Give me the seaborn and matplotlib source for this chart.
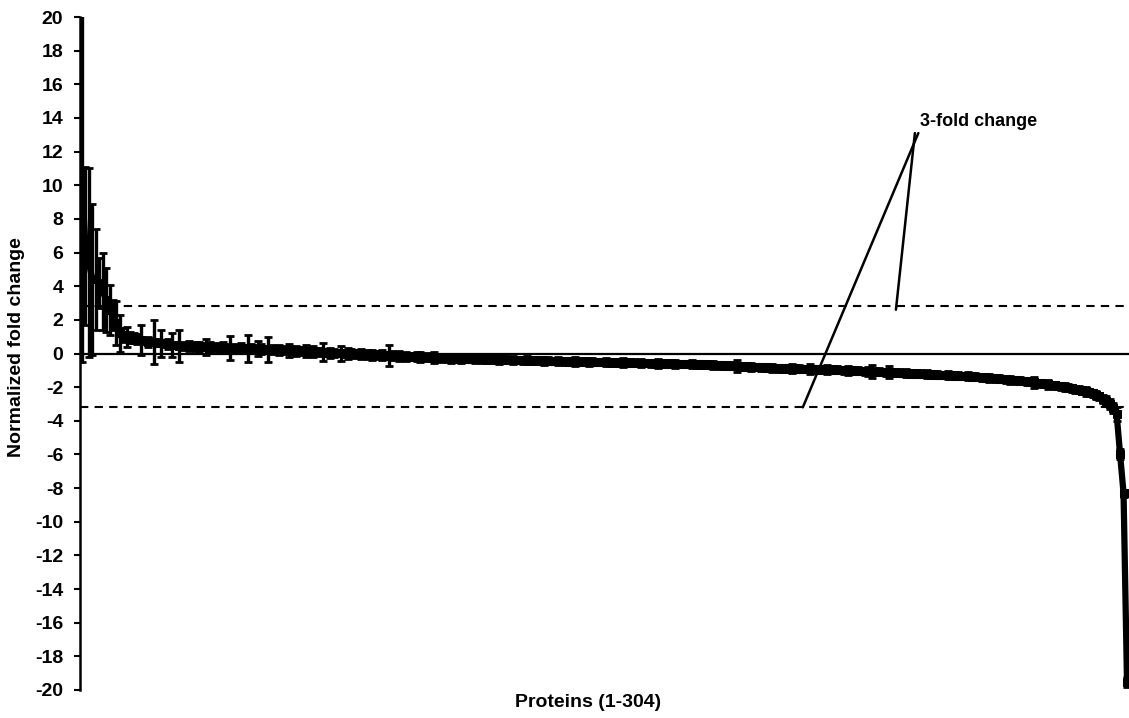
import seaborn as sns
import pandas as pd
import matplotlib.pyplot as plt

# normalized fold change per protein, sorted
fold_change = [
    10.0, 6.4, 5.4, 4.4, 4.4, 4.2, 3.7, 3.2, 2.6, 2.3, 1.8, 1.2, 1.1, 1.0, 0.95, 0.9,
    0.85, 0.8, 0.75, 0.7, 0.7, 0.7, 0.65, 0.6, 0.6, 0.55, 0.5, 0.5, 0.45, 0.45, 0.44, 0.43,
    0.42, 0.41, 0.40, 0.40, 0.39, 0.38, 0.38, 0.37, 0.36, 0.36, 0.35, 0.34, 0.34, 0.33, 0.32, 0.32,
    0.31, 0.30, 0.29, 0.28, 0.27, 0.26, 0.25, 0.24, 0.23, 0.22, 0.21, 0.20, 0.19, 0.18, 0.17, 0.16,
    0.15, 0.14, 0.13, 0.12, 0.11, 0.10, 0.08, 0.06, 0.05, 0.04, 0.03, 0.02, 0.01, 0.00, -0.01, -0.02,
    -0.03, -0.04, -0.05, -0.06, -0.07, -0.08, -0.09, -0.10, -0.11, -0.12, -0.13, -0.14, -0.15, -0.16, -0.17, -0.18,
    -0.18, -0.19, -0.20, -0.21, -0.22, -0.23, -0.24, -0.25, -0.26, -0.27, -0.28, -0.29, -0.30, -0.30, -0.31, -0.31,
    -0.32, -0.32, -0.33, -0.33, -0.34, -0.34, -0.35, -0.35, -0.36, -0.36, -0.37, -0.37, -0.38, -0.38, -0.39, -0.39,
    -0.40, -0.40, -0.41, -0.41, -0.42, -0.42, -0.43, -0.43, -0.44, -0.44, -0.45, -0.45, -0.46, -0.46, -0.47, -0.47,
    -0.47, -0.48, -0.48, -0.49, -0.49, -0.50, -0.50, -0.51, -0.51, -0.52, -0.52, -0.53, -0.53, -0.54, -0.54, -0.55,
    -0.55, -0.56, -0.56, -0.57, -0.57, -0.58, -0.58, -0.59, -0.59, -0.60, -0.60, -0.61, -0.61, -0.62, -0.62, -0.63,
    -0.63, -0.64, -0.64, -0.65, -0.65, -0.66, -0.67, -0.68, -0.69, -0.70, -0.71, -0.72, -0.73, -0.74, -0.75, -0.76,
    -0.77, -0.78, -0.79, -0.80, -0.81, -0.82, -0.83, -0.84, -0.85, -0.86, -0.87, -0.88, -0.89, -0.89, -0.90, -0.91,
    -0.91, -0.92, -0.92, -0.93, -0.93, -0.94, -0.94, -0.95, -0.95, -0.96, -0.96, -0.97, -0.98, -0.99, -1.00, -1.01,
    -1.02, -1.03, -1.04, -1.05, -1.06, -1.07, -1.08, -1.09, -1.10, -1.11, -1.12, -1.13, -1.14, -1.15, -1.16, -1.17,
    -1.18, -1.19, -1.20, -1.21, -1.22, -1.23, -1.24, -1.25, -1.26, -1.27, -1.28, -1.29, -1.30, -1.31, -1.32, -1.33,
    -1.34, -1.35, -1.37, -1.38, -1.40, -1.41, -1.43, -1.45, -1.46, -1.48, -1.50, -1.52, -1.54, -1.56, -1.58, -1.60,
    -1.62, -1.64, -1.66, -1.69, -1.72, -1.75, -1.78, -1.81, -1.84, -1.87, -1.90, -1.93, -1.96, -2.00, -2.04, -2.08,
    -2.12, -2.16, -2.20, -2.25, -2.30, -2.36, -2.45, -2.55, -2.70, -2.85, -3.00, -3.25, -3.60, -6.00, -8.30, -19.50,
]

# error bars (one per protein)
fold_err = [
    10.5, 4.7, 5.6, 4.5, 3.0, 1.5, 2.3, 1.9, 1.5, 0.9, 1.3, 1.1, 0.4, 0.6, 0.3, 0.3,
    0.3, 0.9, 0.2, 0.3, 0.2, 1.3, 0.2, 0.8, 0.2, 0.3, 0.7, 0.2, 0.95, 0.25, 0.2, 0.3,
    0.2, 0.25, 0.3, 0.2, 0.45, 0.3, 0.2, 0.25, 0.2, 0.3, 0.2, 0.7, 0.25, 0.2, 0.3, 0.2,
    0.8, 0.25, 0.2, 0.45, 0.3, 0.2, 0.75, 0.25, 0.2, 0.3, 0.2, 0.25, 0.4, 0.2, 0.3, 0.2,
    0.25, 0.35, 0.2, 0.3, 0.2, 0.25, 0.55, 0.2, 0.3, 0.25, 0.2, 0.45, 0.2, 0.3, 0.25, 0.2,
    0.25, 0.3, 0.2, 0.25, 0.3, 0.2, 0.25, 0.3, 0.2, 0.6, 0.25, 0.2, 0.3, 0.2, 0.25, 0.2,
    0.2, 0.25, 0.3, 0.2, 0.25, 0.2, 0.3, 0.2, 0.25, 0.2, 0.2, 0.25, 0.2, 0.2, 0.25, 0.2,
    0.2, 0.2, 0.25, 0.2, 0.2, 0.25, 0.2, 0.2, 0.2, 0.25, 0.2, 0.2, 0.2, 0.25, 0.2, 0.2,
    0.2, 0.25, 0.2, 0.2, 0.2, 0.2, 0.25, 0.2, 0.2, 0.2, 0.25, 0.2, 0.2, 0.2, 0.2, 0.25,
    0.2, 0.2, 0.2, 0.25, 0.2, 0.2, 0.2, 0.2, 0.25, 0.2, 0.2, 0.2, 0.2, 0.25, 0.2, 0.2,
    0.2, 0.2, 0.25, 0.2, 0.2, 0.2, 0.2, 0.25, 0.2, 0.2, 0.2, 0.2, 0.25, 0.2, 0.2, 0.2,
    0.2, 0.25, 0.2, 0.2, 0.2, 0.2, 0.2, 0.25, 0.2, 0.2, 0.2, 0.2, 0.2, 0.2, 0.35, 0.2,
    0.2, 0.2, 0.25, 0.2, 0.2, 0.2, 0.2, 0.2, 0.25, 0.2, 0.2, 0.2, 0.2, 0.2, 0.25, 0.2,
    0.2, 0.2, 0.2, 0.3, 0.2, 0.2, 0.2, 0.2, 0.25, 0.2, 0.2, 0.2, 0.2, 0.2, 0.25, 0.2,
    0.2, 0.2, 0.2, 0.2, 0.25, 0.4, 0.2, 0.2, 0.2, 0.2, 0.35, 0.2, 0.2, 0.2, 0.2, 0.25,
    0.2, 0.2, 0.2, 0.2, 0.2, 0.25, 0.2, 0.2, 0.2, 0.2, 0.2, 0.25, 0.2, 0.2, 0.2, 0.2,
    0.2, 0.25, 0.2, 0.2, 0.2, 0.2, 0.2, 0.25, 0.2, 0.2, 0.2, 0.2, 0.2, 0.25, 0.2, 0.2,
    0.2, 0.2, 0.2, 0.2, 0.35, 0.2, 0.2, 0.2, 0.25, 0.2, 0.2, 0.2, 0.2, 0.25, 0.2, 0.2,
    0.2, 0.2, 0.2, 0.25, 0.2, 0.2, 0.25, 0.2, 0.25, 0.3, 0.3, 0.3, 0.4, 0.3, 0.2, 0.3,
]

protein = list(range(1, len(fold_change) + 1))
y_ticks = list(range(-20, 21, 2))
upper_cut = 2.8
lower_cut = -3.2

df = pd.DataFrame({'protein': protein, 'fold': fold_change, 'err': fold_err})

sns.set_theme(style='ticks', rc={'text.color': 'black', 'axes.labelcolor': 'black',
                                 'ytick.color': 'black', 'axes.edgecolor': 'black',
                                 'axes.unicode_minus': False})
plt.rcParams['font.family'] = ['Liberation Sans', 'DejaVu Sans']
plt.rcParams['font.weight'] = 'bold'

fig = plt.figure(figsize=(11.29, 7.18), dpi=100)
ax = fig.add_axes([80 / 1129, 28 / 718, 1049 / 1129, 673 / 718])

ax.errorbar(df['protein'], df['fold'], yerr=df['err'], fmt='none',
            ecolor='black', elinewidth=2.4, capsize=2.8, capthick=2.0, zorder=2)
sns.lineplot(data=df, x='protein', y='fold', ax=ax, color='black', lw=4.5,
             marker='s', markersize=6, markeredgecolor='black', zorder=3)

# reference lines
ax.axhline(0, color='black', lw=1.6, zorder=1)
ax.axhline(upper_cut, color='black', lw=1.5, ls=(0, (4, 3)), zorder=1)
ax.axhline(lower_cut, color='black', lw=1.5, ls=(0, (4, 3)), zorder=1)

# annotation
ax.text(261, 13.8, '3-fold change', fontsize=13, fontweight='heavy',
        ha='center', va='center', color='black')
ax.annotate('', xy=(210, lower_cut), xytext=(243.5, 13.1),
            arrowprops=dict(arrowstyle='-', lw=1.8, color='black', shrinkA=0, shrinkB=0))
ax.annotate('', xy=(237, upper_cut - 0.2), xytext=(242.5, 13.1),
            arrowprops=dict(arrowstyle='-', lw=1.8, color='black', shrinkA=0, shrinkB=0))

ax.set_xlim(0.42, 304.58)
ax.set_ylim(-20, 20)
ax.set_yticks(y_ticks)
ax.set_xticks([])
ax.tick_params(axis='y', length=4, width=1.5, pad=8, labelsize=14, colors='black')
for lab in ax.get_yticklabels():
    lab.set_fontweight('bold')

ax.spines['top'].set_visible(False)
ax.spines['right'].set_visible(False)
ax.spines['bottom'].set_visible(False)
ax.spines['left'].set_linewidth(1.8)
ax.spines['left'].set_color('black')

ax.set_ylabel('Normalized fold change', fontsize=14, fontweight='bold', color='black')
ax.yaxis.set_label_coords(-0.052, 0.51)
ax.set_xlabel('Proteins (1-304)', fontsize=14, fontweight='bold', color='black')
ax.xaxis.set_label_coords(0.484, -0.019)
ax.xaxis.label.set_va('center')

plt.savefig('out.png', dpi=100)
